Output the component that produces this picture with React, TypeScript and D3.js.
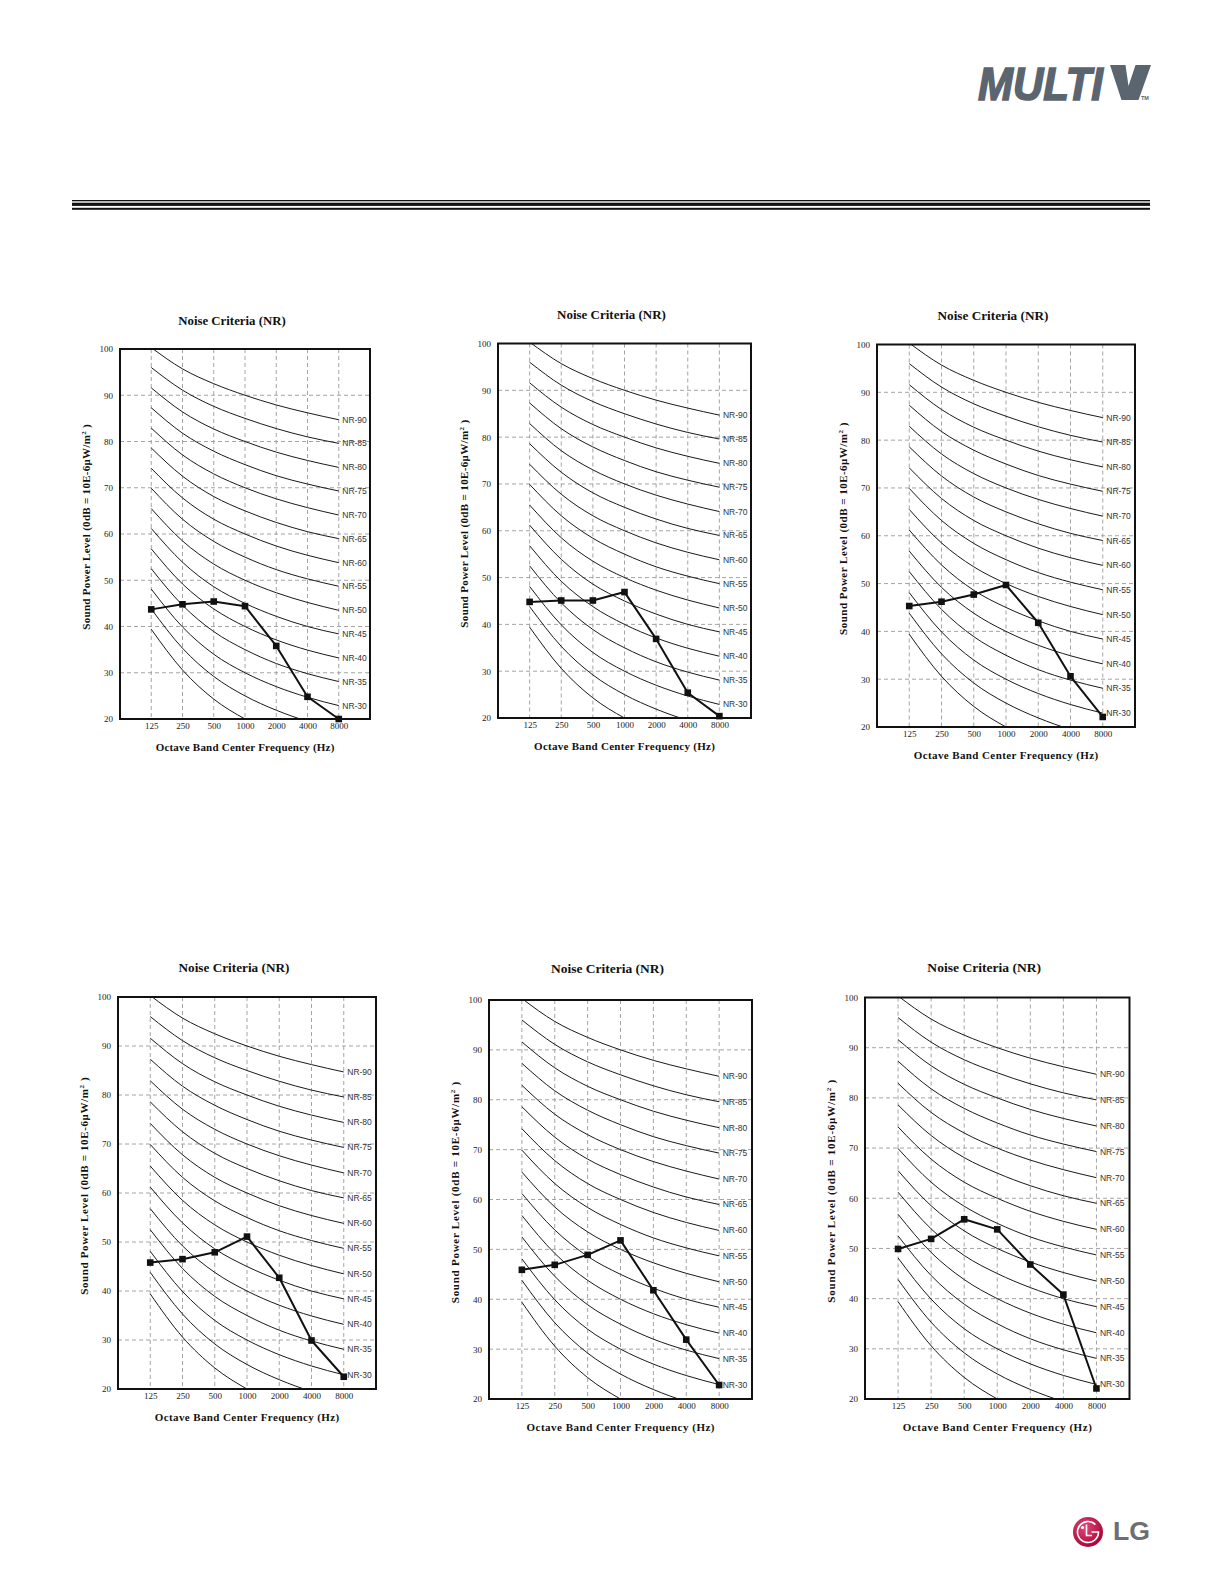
import React, { useEffect, useRef } from 'react';
import * as d3 from 'd3';

const bands = [125, 250, 500, 1000, 2000, 4000, 8000];
const bandLabels = ['125', '250', '500', '1000', '2000', '4000', '8000'];
const yTickValues = [20, 30, 40, 50, 60, 70, 80, 90, 100];
const gridYValues = [30, 40, 50, 60, 70, 80, 90];

// NR reference curves, one row per level, values at 125 Hz .. 8 kHz
const nrLevels = [20, 25, 30, 35, 40, 45, 50, 55, 60, 65, 70, 75, 80, 85, 90];
const nrCurveValues = [
    [39.4, 30.6, 24.3, 20, 16.8, 14.4, 12.6],
    [43.8, 35.3, 29.2, 25, 21.9, 19.5, 17.8],
    [48.1, 39.9, 34.0, 30, 27.0, 24.7, 22.9],
    [52.5, 44.6, 38.9, 35, 32.0, 29.8, 28.1],
    [56.8, 49.2, 43.8, 40, 37.1, 34.9, 33.2],
    [61.2, 53.9, 48.6, 45, 42.2, 40.0, 38.4],
    [65.5, 58.5, 53.5, 50, 47.3, 45.2, 43.5],
    [69.9, 63.2, 58.4, 55, 52.3, 50.3, 48.7],
    [74.2, 67.8, 63.2, 60, 57.4, 55.4, 53.8],
    [78.6, 72.5, 68.1, 65, 62.5, 60.5, 59.0],
    [82.9, 77.1, 73.0, 70, 67.6, 65.7, 64.1],
    [87.3, 81.8, 77.9, 75, 72.6, 70.8, 69.3],
    [91.6, 86.4, 82.7, 80, 77.7, 75.9, 74.4],
    [96.0, 91.1, 87.6, 85, 82.8, 81.0, 79.6],
    [100.3, 95.7, 92.5, 90, 87.9, 86.2, 84.7],
];

// measured sound power levels per unit (125 Hz .. 8 kHz)
const unitA = [43.7, 44.8, 45.4, 44.4, 35.8, 24.8, 20.0];
const unitB = [44.8, 45.1, 45.1, 46.9, 36.9, 25.4, 20.4];
const unitC = [45.3, 46.2, 47.7, 49.7, 41.8, 30.6, 22.1];
const unitD = [45.8, 46.5, 47.9, 51.1, 42.7, 29.9, 22.5];
const unitE = [45.9, 46.9, 48.9, 51.8, 41.8, 31.9, 22.8];
const unitF = [49.9, 51.9, 55.8, 53.8, 46.8, 40.8, 22.1];

const chartTitle = 'Noise Criteria (NR)';
const xTitle = 'Octave Band Center Frequency  (Hz)';

const serif = '"Liberation Serif", "Times New Roman", serif';
const sans = '"Liberation Sans", Arial, sans-serif';

type ChartCfg = {
    id: string;
    left: number;
    top: number;
    right: number;
    bottom: number;
    titleY: number;
    values: number[];
};

const charts: ChartCfg[] = [
    { id: 'a', left: 120, top: 349, right: 370, bottom: 719, titleY: 320, values: unitA },
    { id: 'b', left: 498, top: 343.5, right: 751, bottom: 718, titleY: 314, values: unitB },
    { id: 'c', left: 877, top: 344.5, right: 1135, bottom: 727, titleY: 315, values: unitC },
    { id: 'd', left: 118, top: 997, right: 376, bottom: 1389, titleY: 967, values: unitD },
    { id: 'e', left: 489, top: 1000, right: 752, bottom: 1399, titleY: 968, values: unitE },
    { id: 'f', left: 865, top: 997.5, right: 1129.5, bottom: 1399, titleY: 967, values: unitF },
];

function drawChart(svg: d3.Selection<SVGSVGElement, unknown, null, undefined>, cfg: ChartCfg) {
    const { id, left, top, right, bottom, titleY, values } = cfg;
    const w = right - left;
    const h = bottom - top;

    const x = d3.scaleLog().base(2).domain([62.5, 16000]).range([left, right]);
    const y = d3.scaleLinear().domain([20, 100]).range([bottom, top]);

    const g = svg.append('g');

    g.append('clipPath').attr('id', `clip-${id}`)
        .append('rect')
        .attr('x', left).attr('y', top).attr('width', w).attr('height', h);

    // dashed grid
    g.append('g').selectAll('line').data(bands).join('line')
        .attr('x1', (d) => x(d)).attr('x2', (d) => x(d))
        .attr('y1', top).attr('y2', bottom)
        .attr('stroke', '#9a9a9a').attr('stroke-width', 0.9).attr('stroke-dasharray', '4,3');
    g.append('g').selectAll('line').data(gridYValues).join('line')
        .attr('x1', left).attr('x2', right)
        .attr('y1', (d) => y(d)).attr('y2', (d) => y(d))
        .attr('stroke', '#9a9a9a').attr('stroke-width', 0.9).attr('stroke-dasharray', '4,3');

    // NR curves
    const curve = d3.line<[number, number]>()
        .x((d) => x(d[0]))
        .y((d) => y(d[1]))
        .curve(d3.curveMonotoneX);

    g.append('g').attr('clip-path', `url(#clip-${id})`)
        .selectAll('path').data(nrCurveValues).join('path')
        .attr('d', (row) => curve(row.map((v, i) => [bands[i], v] as [number, number])))
        .attr('fill', 'none').attr('stroke', '#1a1a1a').attr('stroke-width', 1);

    // NR labels at the 8 kHz end
    const labelled = nrLevels.map((lv, i) => ({ lv, v: nrCurveValues[i][6] })).filter((d) => d.lv >= 30);
    g.append('g').selectAll('text').data(labelled).join('text')
        .attr('x', x(8000) + 3.5)
        .attr('y', (d) => y(d.v))
        .attr('dy', '0.35em')
        .attr('font-family', sans).attr('font-size', 8.5).attr('fill', '#333')
        .text((d) => `NR-${d.lv}`);

    // unit spectrum
    const line = d3.line<[number, number]>()
        .x((d) => x(d[0]))
        .y((d) => y(d[1]));
    const pts = values.map((v, i) => [bands[i], v] as [number, number]);
    g.append('path')
        .attr('d', line(pts))
        .attr('fill', 'none').attr('stroke', '#111').attr('stroke-width', 2)
        .attr('stroke-linejoin', 'round');
    g.append('g').selectAll('rect').data(pts).join('rect')
        .attr('x', (d) => x(d[0]) - 3.3).attr('y', (d) => y(d[1]) - 3.3)
        .attr('width', 6.6).attr('height', 6.6).attr('fill', '#111');

    // frame
    g.append('rect')
        .attr('x', left).attr('y', top).attr('width', w).attr('height', h)
        .attr('fill', 'none').attr('stroke', '#111').attr('stroke-width', 2);

    // axes (labels only)
    const yAxis = g.append('g')
        .attr('transform', `translate(${left},0)`)
        .call(d3.axisLeft(y).tickValues(yTickValues).tickSize(0).tickPadding(7));
    yAxis.select('.domain').remove();
    yAxis.selectAll('text').attr('font-family', serif).attr('font-size', 9).attr('fill', '#222');

    const xAxis = g.append('g')
        .attr('transform', `translate(0,${bottom})`)
        .call(d3.axisBottom(x).tickValues(bands).tickSize(0).tickPadding(4)
            .tickFormat((d, i) => bandLabels[i]));
    xAxis.select('.domain').remove();
    xAxis.selectAll('text').attr('font-family', serif).attr('font-size', 9).attr('fill', '#222');

    // titles
    g.append('text')
        .attr('x', left + w / 2 - 13).attr('y', titleY).attr('dy', '0.35em')
        .attr('text-anchor', 'middle')
        .attr('font-family', serif).attr('font-weight', 'bold').attr('font-size', 13.5).attr('fill', '#111')
        .attr('textLength', w * 0.43).attr('lengthAdjust', 'spacingAndGlyphs')
        .text(chartTitle);

    g.append('text')
        .attr('x', left + w / 2).attr('y', bottom + 28).attr('dy', '0.35em')
        .attr('text-anchor', 'middle')
        .attr('font-family', serif).attr('font-weight', 'bold').attr('font-size', 11).attr('fill', '#111')
        .attr('textLength', w * 0.715).attr('lengthAdjust', 'spacing')
        .text(xTitle);

    const yt = g.append('text')
        .attr('transform', `translate(${left - 34},${top + h / 2 - 7}) rotate(-90)`)
        .attr('text-anchor', 'middle').attr('dy', '0.35em')
        .attr('font-family', serif).attr('font-weight', 'bold').attr('font-size', 11).attr('fill', '#111')
        .attr('textLength', h * 0.555).attr('lengthAdjust', 'spacing');
    yt.append('tspan').text('Sound Power Level (0dB = 10E-6μW/m');
    yt.append('tspan').attr('font-size', 7).attr('dy', -4).text('2');
    yt.append('tspan').attr('dy', 4).text('  )');
}

function drawPage(root: SVGSVGElement) {
    const svg = d3.select<SVGSVGElement, unknown>(root);
    svg.selectChildren().remove();

    svg.append('rect').attr('width', 1224).attr('height', 1584).attr('fill', '#fff');

    // MULTI V brand mark
    const brandColor = '#5b656f';
    svg.append('text').attr('x', 978).attr('y', 100).attr('font-size', 47)
        .attr('font-family', sans).attr('font-weight', 900).attr('font-style', 'italic')
        .attr('fill', brandColor).attr('stroke', brandColor).attr('stroke-width', 1.6)
        .attr('textLength', 125).attr('lengthAdjust', 'spacingAndGlyphs').text('MULTI');
    svg.append('path')
        .attr('d', 'M1110,65 L1125.5,65 L1128.5,86 L1135.5,65 L1151,65 L1138.5,100 L1121.5,100 Z')
        .attr('fill', brandColor);
    svg.append('text').attr('x', 1141).attr('y', 100).attr('font-size', 5.5)
        .attr('font-family', sans).attr('font-weight', 'bold').attr('fill', brandColor).text('TM');

    // header rules
    svg.append('rect').attr('x', 72).attr('y', 200).attr('width', 1078).attr('height', 1.3).attr('fill', '#111');
    svg.append('rect').attr('x', 72).attr('y', 202.7).attr('width', 1078).attr('height', 3.2).attr('fill', '#111');
    svg.append('rect').attr('x', 72).attr('y', 207.8).attr('width', 1078).attr('height', 2).attr('fill', '#111');

    charts.forEach((c) => drawChart(svg, c));

    // LG logo
    const defs = svg.append('defs');
    const grad = defs.append('radialGradient').attr('id', 'lgRed').attr('cx', '40%').attr('cy', '35%').attr('r', '70%');
    grad.append('stop').attr('offset', '0%').attr('stop-color', '#e04a78');
    grad.append('stop').attr('offset', '100%').attr('stop-color', '#a50034');

    const lg = svg.append('g').attr('transform', 'translate(1088,1532)');
    lg.append('circle').attr('r', 15).attr('fill', 'url(#lgRed)');
    const r = 10.5;
    lg.append('path')
        .attr('d', `M${0.707 * r},${-0.707 * r} A${r},${r} 0 1 0 ${r},0 L3.5,0`)
        .attr('fill', 'none').attr('stroke', '#fff').attr('stroke-width', 1.6);
    lg.append('path').attr('d', 'M-1.5,-7.5 L-1.5,3.5 L4,3.5')
        .attr('fill', 'none').attr('stroke', '#fff').attr('stroke-width', 1.6);
    lg.append('circle').attr('cx', -5.5).attr('cy', -4.5).attr('r', 1.6).attr('fill', '#fff');

    svg.append('text').attr('x', 1113).attr('y', 1539.5)
        .attr('font-family', sans).attr('font-weight', 'bold').attr('font-size', 25)
        .attr('fill', '#6d6e71').attr('textLength', 37).attr('lengthAdjust', 'spacingAndGlyphs')
        .text('LG');
}

export default function App() {
    const svgRef = useRef<SVGSVGElement>(null);

    useEffect(() => {
        svgRef.current && drawPage(svgRef.current);
    }, []);

    return (
        <svg ref={svgRef} width={1224} height={1584}
            style={{ position: 'absolute', left: 0, top: 0, display: 'block' }}
        />
    );
}
